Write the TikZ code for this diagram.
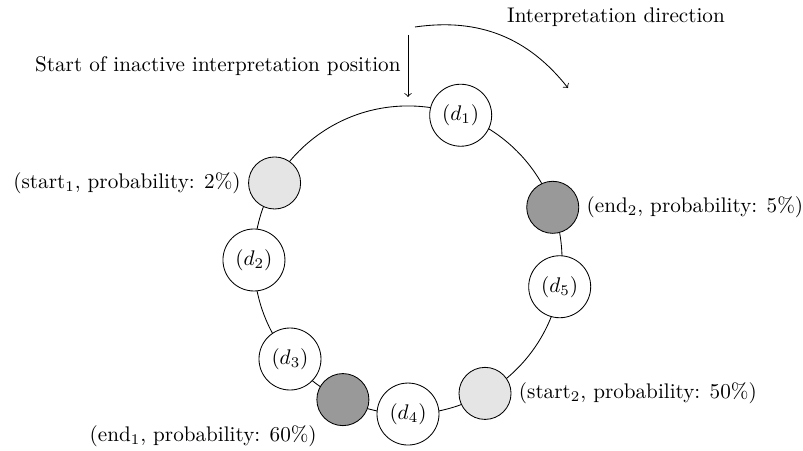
\documentclass[tikz,border=0pt]{standalone}
\usetikzlibrary{calc}
\begin{document}
\begin{tikzpicture}[x=0.4726pt,y=-0.4726pt,
  ringnode/.style={circle,draw,line width=0.4pt,inner sep=0pt},
  datanode/.style={ringnode,fill=white,minimum size=29.3pt},
  startnode/.style={ringnode,fill=black!10,minimum size=24.6pt},
  endnode/.style={ringnode,fill=black!40,minimum size=24.6pt}]
  \useasboundingbox (0,0) rectangle (803,451);
  % ring of interpretation positions
  \coordinate (c) at (408,260);
  \draw (c) circle[radius=72.8pt];
  \node[datanode]  (d1) at ($(c)+(70:72.8pt)$)   {$(d_1)$};
  \node[endnode]   (e2) at ($(c)+(20:72.8pt)$)   {};
  \node[datanode]  (d5) at ($(c)+(-10:72.8pt)$)  {$(d_5)$};
  \node[startnode] (s2) at ($(c)+(-60:72.8pt)$)  {};
  \node[datanode]  (d4) at ($(c)+(-90:72.8pt)$)  {$(d_4)$};
  \node[endnode]   (e1) at ($(c)+(-115:72.8pt)$) {};
  \node[datanode]  (d3) at ($(c)+(-140:72.8pt)$) {$(d_3)$};
  \node[datanode]  (d2) at ($(c)+(180:72.8pt)$)  {$(d_2)$};
  \node[startnode] (s1) at ($(c)+(150:72.8pt)$)  {};
  % labels of the start and end markers
  \node[anchor=east] (s1l) at (s1.west) {(start$_1$, probability: 2\%)};
  \node[anchor=west] (e2l) at (e2.east) {(end$_2$, probability: 5\%)};
  \node[anchor=west] (s2l) at (s2.east) {(start$_2$, probability: 50\%)};
  \node[anchor=north east] (e1l) at (e1.south west) {(end$_1$, probability: 60\%)};
  % start position marker
  \coordinate (ptop) at (408,35);
  \coordinate (pbot) at (408,97);
  \draw[->] (ptop) -- (pbot) node[midway,left] (pl) {Start of inactive interpretation position};
  % direction of interpretation
  \coordinate (ds) at (415,27);
  \coordinate (de) at (568,88);
  \draw[->] (ds) to[bend left=30] (de);
  \node (dl) at (616,17) {Interpretation direction};
\end{tikzpicture}
\end{document}
